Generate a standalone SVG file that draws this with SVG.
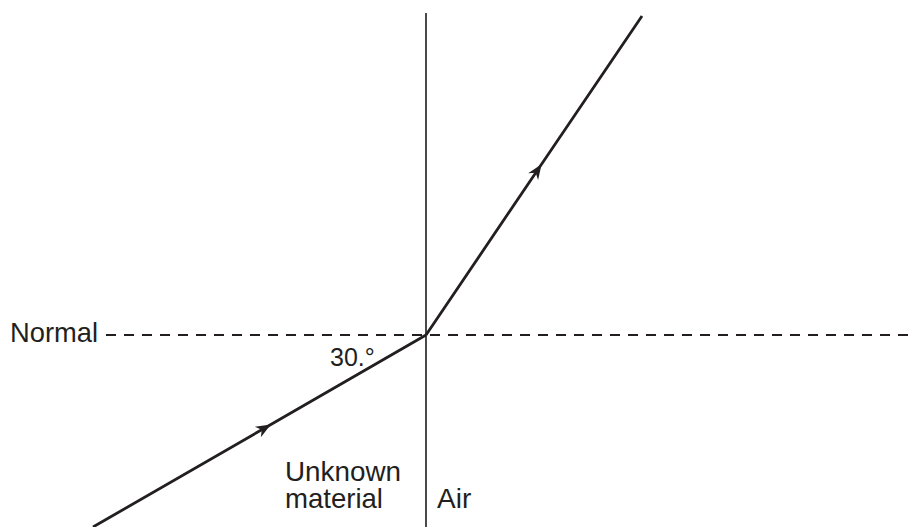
<svg xmlns="http://www.w3.org/2000/svg" width="915" height="527" viewBox="0 0 915 527">
  <style>
    .lbl { font-family: "Liberation Sans", Arial, sans-serif; font-size: 28px; fill: #231f20; }
    .ray { fill: none; stroke: #231f20; stroke-width: 2.8; marker-mid: url(#arr); }
  </style>
  <defs>
    <marker id="arr" markerUnits="userSpaceOnUse" orient="auto" markerWidth="20" markerHeight="16" refX="0" refY="0" viewBox="-16 -8 20 16" overflow="visible">
      <path d="M1,0 L-14,-6 L-9.5,0 L-14,6 Z" fill="#231f20"/>
    </marker>
  </defs>
  <rect width="915" height="527" fill="#fff"/>
  <g id="boundary">
    <line x1="426" y1="13" x2="426" y2="527" stroke="#2a2a2a" stroke-width="1.7"/>
  </g>
  <g id="normal">
    <line x1="106" y1="335" x2="915" y2="335" stroke="#231f20" stroke-width="2.2" stroke-dasharray="10 8"/>
    <text class="lbl" x="10" y="342" textLength="88" lengthAdjust="spacingAndGlyphs">Normal</text>
  </g>
  <g id="connectors">
    <path class="ray" d="M93,527 L270,425 L426,335"/>
    <path class="ray" d="M426,335 L541,165 L642,16"/>
  </g>
  <g id="angle">
    <text class="lbl" x="330" y="366" style="font-size:25px">30.°</text>
  </g>
  <g id="unknown-material">
    <text class="lbl" x="285" y="481" textLength="116" lengthAdjust="spacingAndGlyphs">Unknown</text>
    <text class="lbl" x="285" y="508" textLength="98" lengthAdjust="spacingAndGlyphs">material</text>
  </g>
  <g id="air">
    <text class="lbl" x="437" y="508">Air</text>
  </g>
</svg>
